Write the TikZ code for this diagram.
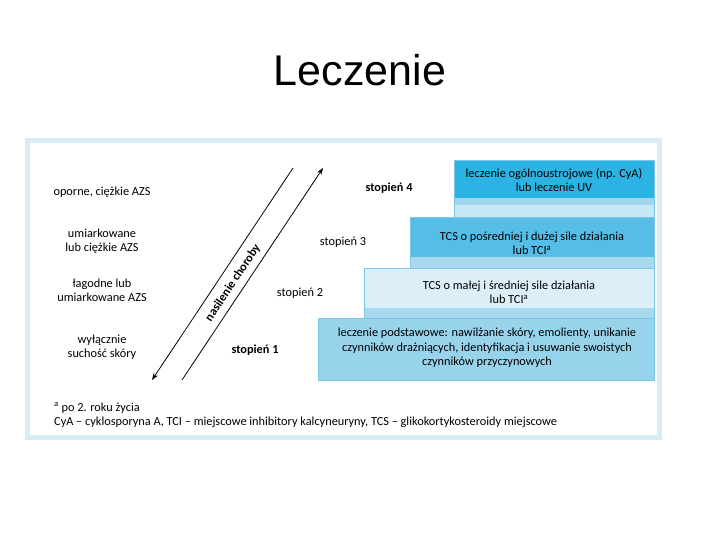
\documentclass[tikz,border=0pt]{standalone}
\usepackage{fontspec}
\setmainfont{Carlito}
\newfontfamily\titlefont{Liberation Sans}
\usetikzlibrary{arrows.meta}
\definecolor{framec}{HTML}{D6EDF7}
\definecolor{sfour}{HTML}{2BB3E3}
\definecolor{sfourA}{HTML}{A3D6ED}
\definecolor{sfourB}{HTML}{C6E7F4}
\definecolor{sthree}{HTML}{55BDE6}
\definecolor{strip}{HTML}{A9D9EE}
\definecolor{stwo}{HTML}{DCEFF8}
\definecolor{sone}{HTML}{98D3EC}
\definecolor{edgec}{HTML}{7CC6E6}
\newcommand{\dfont}{\fontsize{12.3}{14}\selectfont}
\tikzset{
  lbl/.style={align=center, font=\dfont, inner sep=0pt},
  stlbl/.style={font=\dfont, inner sep=0pt},
  boxtxt/.style={align=center, font=\dfont, inner sep=0pt},
  sevarrow/.style={line width=0.8pt, -{Stealth[length=7pt,width=5pt]}},
}
\begin{document}
\begin{tikzpicture}[x=1pt,y=-1pt]
\useasboundingbox (0,0) rectangle (720,540);
\node[font=\titlefont\fontsize{43}{50}\selectfont, inner sep=0pt] (title) at (360,70) {Leczenie};
% frame
\draw[framec, line width=5pt, fill=white] (27.5,140.5) rectangle (659.5,437.5);
% step 1
\filldraw[fill=sone, draw=edgec, line width=0.5pt] (318,318) rectangle (654,380);
% step 2
\fill[stwo] (364,268) rectangle (654,308);
\fill[strip] (364,308) rectangle (654,318);
\draw[edgec, line width=0.4pt] (364,318) -- (364,268) -- (654,268) -- (654,318);
% step 3
\fill[sthree] (410,217) rectangle (654,257);
\fill[strip] (410,257) rectangle (654,268);
\draw[edgec, line width=0.4pt] (410,268) -- (410,217) -- (654,217) -- (654,268);
% step 4
\fill[sfour] (454,160) rectangle (654,198);
\fill[sfourA] (454,198) rectangle (654,205);
\fill[sfourB] (454,205) rectangle (654,217);
\draw[edgec, line width=0.4pt] (454,217) -- (454,160) -- (654,160) -- (654,217);
% box texts
\node[boxtxt] (t4) at (554,180.5) {leczenie ogólnoustrojowe (np. CyA)\\lub leczenie UV};
\node[boxtxt] (t3) at (532,243.5) {TCS o pośredniej i dużej sile działania\\lub TCI\textsuperscript{a}};
\node[boxtxt] (t2) at (509,292.5) {TCS o małej i średniej sile działania\\lub TCI\textsuperscript{a}};
\node[boxtxt, font=\fontsize{12.3}{14.5}\selectfont] (t1) at (487,348) {leczenie podstawowe: nawilżanie skóry, emolienty, unikanie\\czynników drażniących, identyfikacja i usuwanie swoistych\\czynników przyczynowych};
% step labels
\node[stlbl, font=\bfseries\dfont] (s4) at (389,188) {stopień 4};
\node[stlbl] (s3) at (343,242) {stopień 3};
\node[stlbl] (s2) at (300,293) {stopień 2};
\node[stlbl, font=\bfseries\dfont] (s1) at (255,350) {stopień 1};
% left labels
\node[lbl] (l4) at (102,192) {oporne, ciężkie AZS};
\node[lbl] (l3) at (102,241) {umiarkowane\\lub ciężkie AZS};
\node[lbl] (l2) at (102,290) {łagodne lub\\umiarkowane AZS};
\node[lbl] (l1) at (102,347) {wyłącznie\\suchość skóry};
% arrows
\coordinate (d1) at (293,168);
\coordinate (d2) at (152,380);
\coordinate (u1) at (182,380);
\coordinate (u2) at (323,168);
\draw[sevarrow] (d1) -- (d2);
\draw[sevarrow] (u1) -- (u2);
\node[lbl, font=\bfseries\dfont, rotate=56.4] (sev) at (233,283) {nasilenie choroby};
% footnote
\node[anchor=west, font=\dfont, inner sep=0pt] (f1) at (54,408) {\textsuperscript{a} po 2. roku życia};
\node[anchor=west, font=\dfont, inner sep=0pt] (f2) at (54,422) {CyA – cyklosporyna A, TCI – miejscowe inhibitory kalcyneuryny, TCS – glikokortykosteroidy miejscowe};
\end{tikzpicture}
\end{document}
